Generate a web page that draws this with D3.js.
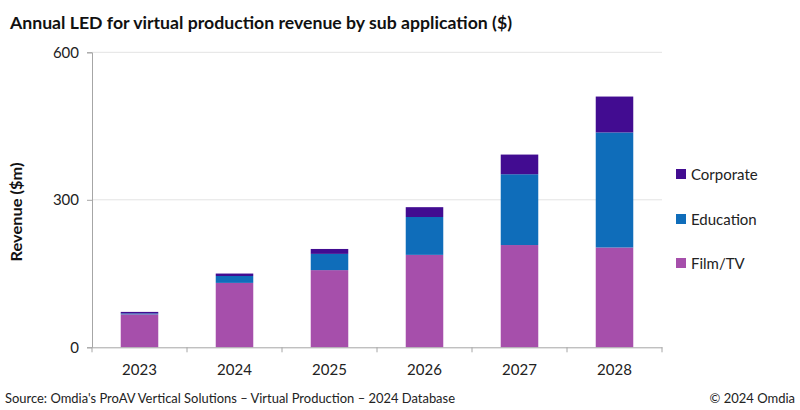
<!DOCTYPE html>
<html>
<head>
<meta charset="utf-8">
<script src="https://cdn.jsdelivr.net/npm/d3@7"></script>
<style>
  body { margin: 0; background: #fff; }
  svg { display: block; font-family: Lato, "Open Sans", sans-serif; }
</style>
</head>
<body>
<svg id="chart" width="800" height="410"></svg>
<script>
const years = ["2023", "2024", "2025", "2026", "2027", "2028"];
const filmTV = [67, 131, 157, 188, 208, 203];
const education = [2, 14, 33, 77, 144, 234];
const corporate = [3, 5, 10, 20, 40, 73];
const yTicks = [0, 300, 600];
const seriesNames = ["Film/TV", "Education", "Corporate"];
const seriesColors = ["#A64FAB", "#0F6DBA", "#420C91"];

const svg = d3.select("#chart");
const m = { left: 92, right: 662, top: 52.3, bottom: 347.3 };

const x = d3.scaleBand().domain(years).range([m.left, m.right]).paddingInner(0.605).paddingOuter(0.3025);
const y = d3.scaleLinear().domain([0, 600]).range([m.bottom, m.top]);

const rows = years.map((yr, i) => ({ year: yr, "Film/TV": filmTV[i], "Education": education[i], "Corporate": corporate[i] }));
const stack = d3.stack().keys(seriesNames)(rows);

// gridlines
svg.append("g").selectAll("line").data(yTicks.filter(d => d > 0)).join("line")
  .attr("x1", m.left).attr("x2", m.right)
  .attr("y1", d => y(d)).attr("y2", d => y(d))
  .attr("stroke", "#E3E3E3").attr("stroke-width", 1);

// bars
svg.append("g").selectAll("g").data(stack).join("g")
  .attr("fill", (d, i) => seriesColors[i])
  .selectAll("rect").data(d => d).join("rect")
  .attr("x", d => x(d.data.year))
  .attr("width", x.bandwidth())
  .attr("y", d => y(d[1]))
  .attr("height", d => y(d[0]) - y(d[1]));

// y axis
const yAxis = svg.append("g").attr("transform", `translate(${m.left},0)`)
  .call(d3.axisLeft(y).tickValues(yTicks).tickSize(5).tickPadding(8));
yAxis.select(".domain").attr("stroke", "#A6A6A6");
yAxis.selectAll(".tick line").attr("stroke", "#A6A6A6");
yAxis.selectAll(".tick text").attr("font-size", 15).attr("fill", "#222").attr("font-family", "Lato, sans-serif");

// x axis
const xAxis = svg.append("g").attr("transform", `translate(0,${m.bottom})`)
  .call(d3.axisBottom(x).tickSize(0).tickPadding(17));
xAxis.select(".domain").attr("stroke", "#A6A6A6");
xAxis.selectAll(".tick text").attr("font-size", 15).attr("fill", "#222").attr("font-family", "Lato, sans-serif");
// category boundary ticks
const step = x.step();
const bounds = d3.range(years.length + 1).map(i => m.left + i * step);
svg.append("g").selectAll("line").data(bounds).join("line")
  .attr("x1", d => d).attr("x2", d => d)
  .attr("y1", m.bottom).attr("y2", m.bottom + 5)
  .attr("stroke", "#A6A6A6");

// y axis title
svg.append("text")
  .attr("transform", `translate(22,212) rotate(-90)`)
  .attr("text-anchor", "middle")
  .attr("font-size", 16).attr("font-weight", "bold").attr("fill", "#111")
  .attr("textLength", 99).attr("lengthAdjust", "spacingAndGlyphs")
  .text("Revenue ($m)");

// title
svg.append("text")
  .attr("x", 10).attr("y", 29)
  .attr("font-size", 17).attr("font-weight", "bold").attr("fill", "#111")
  .attr("textLength", 502).attr("lengthAdjust", "spacingAndGlyphs")
  .text("Annual LED for virtual production revenue by sub application ($)");

// legend
const legendOrder = ["Corporate", "Education", "Film/TV"];
const legendY = [174, 219, 263];
const lg = svg.append("g").selectAll("g").data(legendOrder).join("g")
  .attr("transform", (d, i) => `translate(676,${legendY[i]})`);
lg.append("rect").attr("x", 0).attr("y", -5).attr("width", 10).attr("height", 10)
  .attr("fill", d => seriesColors[seriesNames.indexOf(d)]);
lg.append("text").attr("x", 15).attr("y", 5.5)
  .attr("font-size", 15).attr("fill", "#222").text(d => d);

// footer
svg.append("text")
  .attr("x", 5).attr("y", 403)
  .attr("font-size", 13).attr("fill", "#222")
  .attr("textLength", 450).attr("lengthAdjust", "spacingAndGlyphs")
  .text("Source: Omdia's ProAV Vertical Solutions – Virtual Production – 2024 Database");
svg.append("text")
  .attr("x", 795).attr("y", 403).attr("text-anchor", "end")
  .attr("font-size", 13).attr("fill", "#222")
  .text("© 2024 Omdia");
</script>
</body>
</html>
